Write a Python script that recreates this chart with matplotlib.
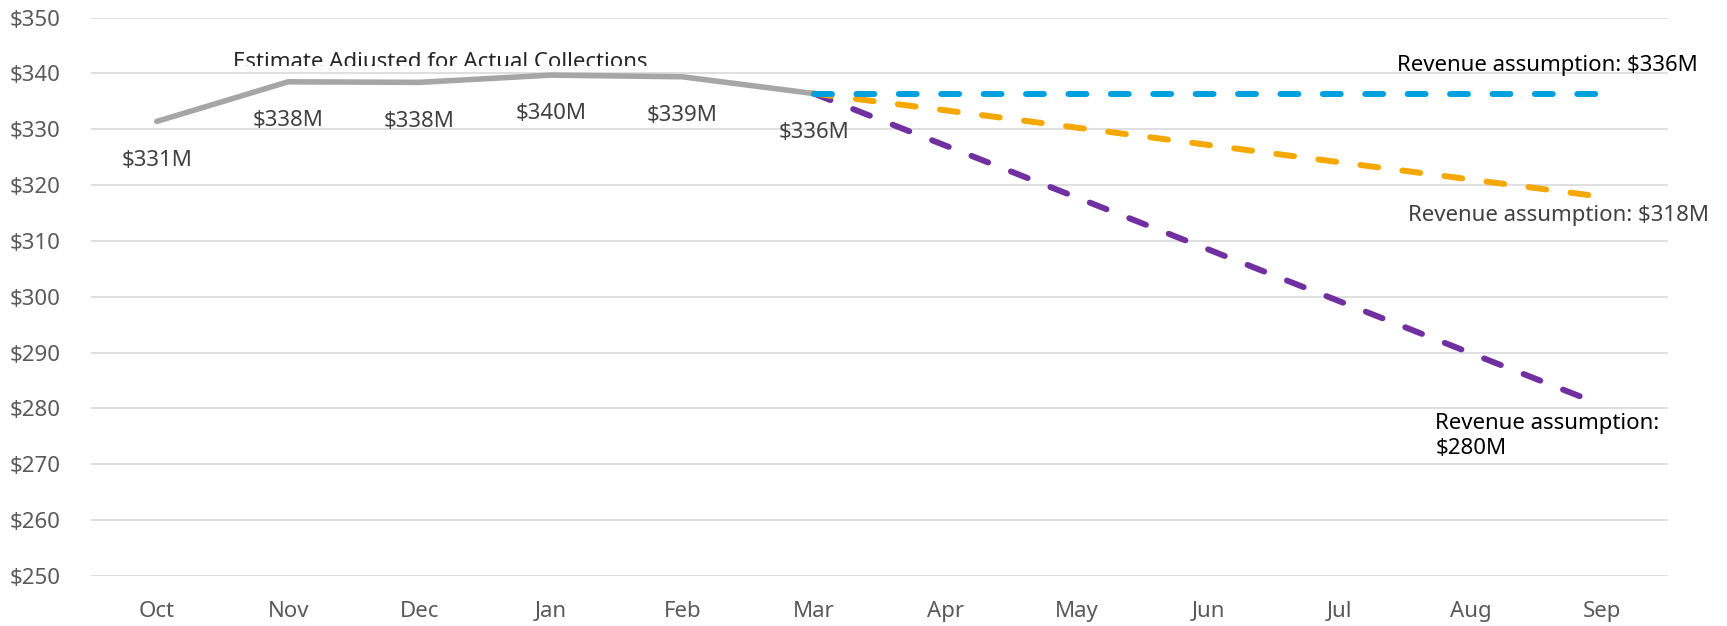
import matplotlib.pyplot as plt
from matplotlib.patches import Rectangle

months = ["Oct", "Nov", "Dec", "Jan", "Feb", "Mar", "Apr", "May", "Jun", "Jul", "Aug", "Sep"]
actual = [331.4, 338.5, 338.4, 339.7, 339.4, 336.4]
actual_labels = ["$331M", "$338M", "$338M", "$340M", "$339M", "$336M"]
flat = [336.4, 336.4, 336.4, 336.4, 336.4, 336.4, 336.4]
mid = [336.4, 333.4, 330.3, 327.2, 324.1, 321.0, 317.9]
low = [336.4, 327.1, 317.8, 308.5, 299.2, 289.9, 280.6]
yticks = [250, 260, 270, 280, 290, 300, 310, 320, 330, 340, 350]

plt.rcParams["font.family"] = ["Noto Sans", "DejaVu Sans"]

fig = plt.figure(figsize=(17.27, 6.26), dpi=100)
ax = fig.add_axes([0.0527, 0.0799, 0.9131, 0.892])

x_act = list(range(len(actual)))
x_proj = list(range(len(actual) - 1, len(months)))

ax.plot(x_act, actual, color="#A6A6A6", lw=4.0, solid_capstyle="round", zorder=3)
dash = dict(lw=4.3, dashes=(3.0, 4.1), dash_capstyle="round", zorder=4)
ax.plot(x_proj, low, color="#7030A0", **dash)
ax.plot(x_proj, mid, color="#F5A800", **dash)
ax.plot(x_proj, flat, color="#00A0DF", **dash)

# data labels sit under each actual point
for x, y, s in zip(x_act, actual, actual_labels):
    ax.annotate(s, (x, y), xytext=(0, -28), textcoords="offset points",
                ha="center", va="center", fontsize=16, color="#404040")

# title box is cut off at the bottom in the original
t = ax.text(0.58, 341.0, "Estimate Adjusted for Actual Collections", fontsize=16,
            color="#262626", ha="left", va="baseline", clip_on=True)
t.set_clip_path(Rectangle((-1, 341.3), 14, 20, transform=ax.transData))

ax.text(9.44, 341.5, "Revenue assumption: $336M", fontsize=16, color="black",
        ha="left", va="center", clip_on=False)
ax.text(9.52, 314.5, "Revenue assumption: $318M", fontsize=16, color="#404040",
        ha="left", va="center", clip_on=False)
ax.text(9.73, 275.0, "Revenue assumption:\n$280M", fontsize=16, color="black",
        ha="left", va="center", linespacing=1.25, clip_on=False)

ax.set_xlim(-0.5, len(months) - 0.5)
ax.set_ylim(250, 350)
ax.set_xticks(range(len(months)))
ax.set_xticklabels(months)
ax.set_yticks(yticks)
ax.set_yticklabels(["$%d" % v for v in yticks])
ax.tick_params(axis="both", length=0, labelsize=16, labelcolor="#595959")
ax.tick_params(axis="y", pad=22)
ax.tick_params(axis="x", pad=18)
ax.grid(axis="y", color="#D9D9D9", lw=1.2)
ax.set_axisbelow(True)
for s in ax.spines.values():
    s.set_visible(False)

fig.savefig("out.png", dpi=100)
